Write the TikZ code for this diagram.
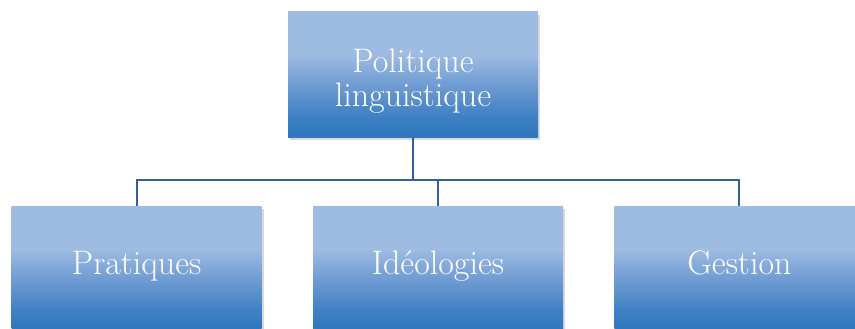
\documentclass[tikz,border=0pt]{standalone}
\usepackage{tikz}
\usetikzlibrary{positioning,calc,shadows}
\definecolor{boxtop}{RGB}{158,187,226}
\definecolor{boxmid}{RGB}{112,156,211}
\definecolor{boxdark}{RGB}{62,128,196}
\definecolor{boxbot}{RGB}{50,120,190}
\definecolor{linkblue}{RGB}{52,98,152}
\pgfdeclareverticalshading{boxshade}{100bp}{color(0bp)=(boxbot); color(27bp)=(boxbot);
  color(33bp)=(boxdark); color(46bp)=(boxmid); color(58bp)=(boxtop); color(100bp)=(boxtop)}

\begin{document}
\begin{tikzpicture}[
    box/.style={rectangle, minimum width=250pt, minimum height=125pt, inner sep=0pt,
                shading=boxshade, text=white,
                font=\fontsize{34}{34}\selectfont,
                drop shadow={opacity=0.3, shadow xshift=2pt, shadow yshift=-3pt}},
    root/.style={box, align=center},
    leaf/.style={box, text height=1.35em, text depth=0.18em},
    link/.style={draw=linkblue, line width=2pt},
]
    \useasboundingbox (0,0) rectangle (855pt,-329pt);
    \clip (0,0) rectangle (855pt,-329pt);

    % top of the tree
    \node[root] (pol) at (413pt,-74.5pt) {\rule{0pt}{1.1em}Politique\\linguistique};

    % second level
    \node[leaf, below=69pt of pol, xshift=25pt] (ideo) {Id\'eologies};
    \node[leaf, left=51pt of ideo]  (prat) {Pratiques};
    \node[leaf, right=51pt of ideo] (gest) {Gestion};

    % connectors
    \coordinate (bus) at ($(pol.south)+(0,-43pt)$);
    \draw[link] (pol.south) -- (bus);
    \draw[link] (bus) -| (prat.north);
    \draw[link] (bus) -| (ideo.north);
    \draw[link] (bus) -| (gest.north);
\end{tikzpicture}
\end{document}
